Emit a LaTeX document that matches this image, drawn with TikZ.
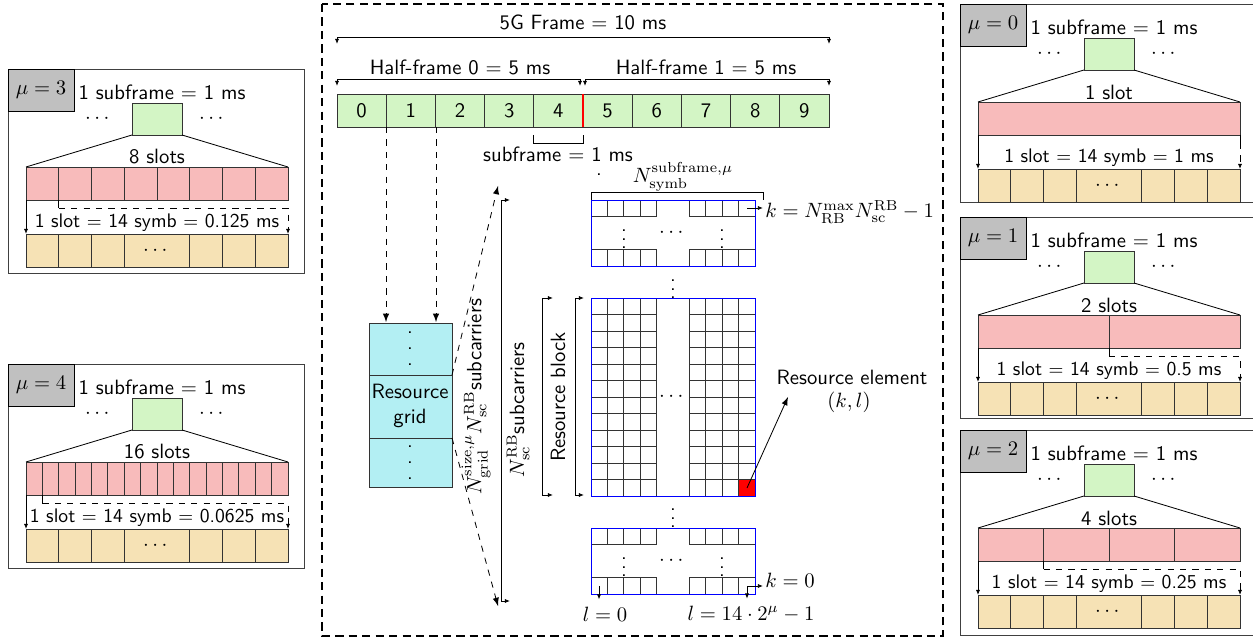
\documentclass[tikz,border=0pt]{standalone}
\usepackage{amsmath,amssymb}
\usepackage{tikz}
\usetikzlibrary{arrows.meta}
\usetikzlibrary{calc}

\renewcommand{\familydefault}{\sfdefault}

\definecolor{sfgreen}{HTML}{D3F5C5}
\definecolor{slotpink}{HTML}{F8BBBB}
\definecolor{symbtan}{HTML}{F6E2B5}
\definecolor{gridcyan}{HTML}{B3EFF3}
\definecolor{mugray}{HTML}{C0C0C0}

% three dots, more spread out than \vdots
\newcommand{\spreaddots}{\vbox{\baselineskip7.8pt\lineskiplimit0pt\hbox{.}\hbox{.}\hbox{.}}}

\begin{document}
\begin{tikzpicture}[x=0.4835pt, y=-0.4835pt,
    dim/.style={{Latex[length=2.5pt,width=2pt]}-{Latex[length=2.5pt,width=2pt]}},
    tip/.style={-{Latex[length=2.5pt,width=2pt]}},
    cellline/.style={draw=black!80},
    panel/.style={draw=black!75},
    lbl/.style={inner sep=1pt, font=\fontsize{9.5}{11}\selectfont}]
	\useasboundingbox (0,0) rectangle (1253,638);
	\clip (0,0) rectangle (1253,638);
	
	% numerology panels: mu / left / top / height / slots / slot text / slot length
	\foreach \m/\px/\py/\ph/\ns/\slots/\dur in {3/8/69/204/8/8 slots/0.125,
		4/8/364/204/16/16 slots/0.0625, 0/960/4/198/1/1 slot/1,
		1/960/217/201/2/2 slots/0.5, 2/960/430/205/4/4 slots/0.25}{
	\begin{scope}[shift={(\px,\py)}]
		\draw[panel] (0,0) rectangle (296,\ph);
		\draw[fill=mugray] (0,0) rectangle (66,42);
		\node (mu\m) at (33,21) {$\mu = \m$};
		\node (sf\m) at (154,23) {1 subframe $=$ 1 ms};
		
		% one subframe out of many
		\draw[cellline, fill=sfgreen] (124,34) rectangle (174,66);
		\coordinate (gl\m) at (124,66);
		\coordinate (gr\m) at (174,66);
		\node (dl\m) at (91,50) {$\cdots$};
		\node (dr\m) at (205,50) {$\cdots$};
		
		% slots of the subframe
		\pgfmathsetmacro{\w}{262/\ns}
		\foreach \k in {1,...,\ns}
			\draw[cellline, fill=slotpink] ({18+(\k-1)*\w},98) rectangle ({18+\k*\w},131);
		\coordinate (pl\m) at (18,98);
		\coordinate (pr\m) at (280,98);
		\draw (gl\m) -- (pl\m);
		\draw (gr\m) -- (pr\m);
		\node (ns\m) at (149,88) {\slots};
		
		% first slot opened up into symbols
		\coordinate (sa\m) at (18,131);
		\coordinate (sb\m) at (18,165);
		\coordinate (se\m) at ({18+\w},131);
		\coordinate (sk\m) at ({18+\w},139);
		\coordinate (sc\m) at (280,165);
		\draw[tip] (sa\m) -- (sb\m);
		\draw (se\m) -- (sk\m);
		\draw[dashed, tip] (sk\m) -| (sc\m);
		
		% 14 symbols
		\foreach \k in {0,1,2,5,6,7}
			\draw[cellline, fill=symbtan] ({18+\k*32.75},165) rectangle ({18+(\k+1)*32.75},198);
		\draw[cellline, fill=symbtan] (116.25,165) rectangle (181.75,198);
		\node (sd\m) at (149,181.5) {$\cdots$};
		\node[fill=white, lbl] (sl\m) at (149,154) {1 slot $=$ 14 symb $=$ \dur\ ms};
	\end{scope}
	}
	
	% frame box
	\draw[dashed, line width=1.1pt, dash pattern=on 4pt off 2.5pt] (322,4) rectangle (943,636);
	
	% ten subframes
	\foreach \i in {0,...,9}{
		\draw[cellline, fill=sfgreen] ({337+49.2*\i},94) rectangle ({337+49.2*(\i+1)},127);
		\node (c\i) at ({361.6+49.2*\i},110.5) {\i};
	}
	\draw[red, thick] (583,94) -- (583,127);
	
	% frame and half-frames
	\node (frame) at (583,22) {5G Frame $=$ 10 ms};
	\draw[dim] (337,44) -- (337,37) -- (829,37) -- (829,44);
	\node (hf0) at (460,67) {Half-frame 0 $=$ 5 ms};
	\node (hf1) at (706,67) {Half-frame 1 $=$ 5 ms};
	\draw[dim] (337,86) -- (337,79) -- (580,79) -- (580,86);
	\draw[dim] (585,86) -- (585,79) -- (829,79) -- (829,86);
	
	% one subframe
	\draw (533,135) -- (533,143) -- (583,143) -- (583,135);
	\node (sub) at (558,154) {subframe $=$ 1 ms};
	
	% resource grid
	\draw[cellline, fill=gridcyan] (369,323) rectangle (452,487);
	\draw[cellline] (369,375) -- (452,375);
	\draw[cellline] (369,438) -- (452,438);
	\node (rgtop) at (410,349) {\spreaddots};
	\node[align=center, inner sep=0] (rg) at (410,406) {Resource\\grid};
	\node (rgbot) at (410,463) {\spreaddots};
	
	\coordinate (f1) at (386,127);
	\coordinate (f2) at (436,127);
	\coordinate (g1) at (386,322);
	\coordinate (g2) at (436,322);
	\draw[dashed, -latex] (f1) -- (g1);
	\draw[dashed, -latex] (f2) -- (g2);
	
	% zoom into the grid
	\coordinate (zt) at (452,375);
	\coordinate (zb) at (452,438);
	\coordinate (zt2) at (498,186);
	\coordinate (zb2) at (498,606);
	\draw[dashed, -latex] (zt) -- (zt2);
	\draw[dashed, -latex] (zb) -- (zb2);
	
	% subcarrier ranges
	\draw[dim] (510,200) -- (501,200) -- (501,601) -- (510,601);
	\node[rotate=90] (ngrid) at (476,397) {$N_{\mathrm{grid}}^{\mathrm{size},\mu} N_{\mathrm{sc}}^{\mathrm{RB}}$subcarriers};
	\draw[dim] (553,298) -- (542,298) -- (542,495) -- (553,495);
	\node[rotate=90] (nsc) at (518,410) {$N_{\mathrm{sc}}^{\mathrm{RB}}$subcarriers};
	\draw[dim] (584,298) -- (575,298) -- (575,495) -- (584,495);
	\node[rotate=90] (rb) at (558,397) {Resource block};
	
	% blocks of subcarriers x symbols
	\def\cs{16.4} % cell width
	\def\ch{16.5} % cell height
	\def\gx{591} % left edge of the blocks
	% top block
	\foreach \c in {0,1,2,3,6,7,8,9}
		\foreach \r in {0,3}
			\draw[cellline] ({\gx+\c*\cs},{200+\r*\ch}) rectangle ({\gx+(\c+1)*\cs},{200+(\r+1)*\ch});
	\draw[blue] (\gx,200) rectangle (755,266);
	\node at (624,233) {$\vdots$};
	\node at (722,233) {$\vdots$};
	\node at (673,233) {$\cdots$};
	\node at (673,283) {$\vdots$};
	% middle block, one resource block
	\foreach \c in {0,1,2,3,6,7,8,9}
		\foreach \r in {0,...,11}
			\draw[cellline] ({\gx+\c*\cs},{298+\r*\ch}) rectangle ({\gx+(\c+1)*\cs},{298+(\r+1)*\ch});
	\draw[cellline, fill=red] ({\gx+9*\cs},{298+11*\ch}) rectangle (755,496);
	\draw[blue] (\gx,298) rectangle (755,496);
	\node at (673,397) {$\cdots$};
	\node at (673,512) {$\vdots$};
	% bottom block
	\foreach \c in {0,1,2,3,6,7,8,9}
		\foreach \r in {0,3}
			\draw[cellline] ({\gx+\c*\cs},{528+\r*\ch}) rectangle ({\gx+(\c+1)*\cs},{528+(\r+1)*\ch});
	\draw[blue] (\gx,528) rectangle (755,594);
	\node at (624,561) {$\vdots$};
	\node at (722,561) {$\vdots$};
	\node at (673,561) {$\cdots$};
	
	% symbols per subframe
	\draw (591,200) -- (591,192) -- (763,192) -- (763,200);
	\node (nsymb) at (683,177) {$N_{\mathrm{symb}}^{\mathrm{subframe},\mu}$};
	\node[inner sep=0] (dot) at (599,175) {.};
	
	% index labels
	\coordinate (ktop) at (747,208);
	\node[anchor=west, inner sep=1pt] (kmax) at (763,212) {$k = N_{\mathrm{RB}}^{\max} N_{\mathrm{sc}}^{\mathrm{RB}} - 1$};
	\draw[tip] (ktop) -- (kmax.west |- ktop);
	
	\coordinate (lfirst) at (599,586);
	\coordinate (llast) at (747,586);
	\node (l0) at (605,614) {$l = 0$};
	\node (lmax) at (751,614) {$l = 14 \cdot 2^{\mu} - 1$};
	\node[anchor=west, inner sep=1pt] (k0) at (763,580) {$k = 0$};
	\draw[tip] (lfirst) -- (lfirst |- l0.north);
	\draw[dim] (llast |- lmax.north) -- (llast) -- (k0.west |- llast);
	
	% one resource element
	\coordinate (re) at (747,488);
	\node (rel) at (852,377) {Resource element};
	\node (kl) at (849,402) {$(k,l)$};
	\draw[-latex] (re) -- (788,397);
\end{tikzpicture}
\end{document}
